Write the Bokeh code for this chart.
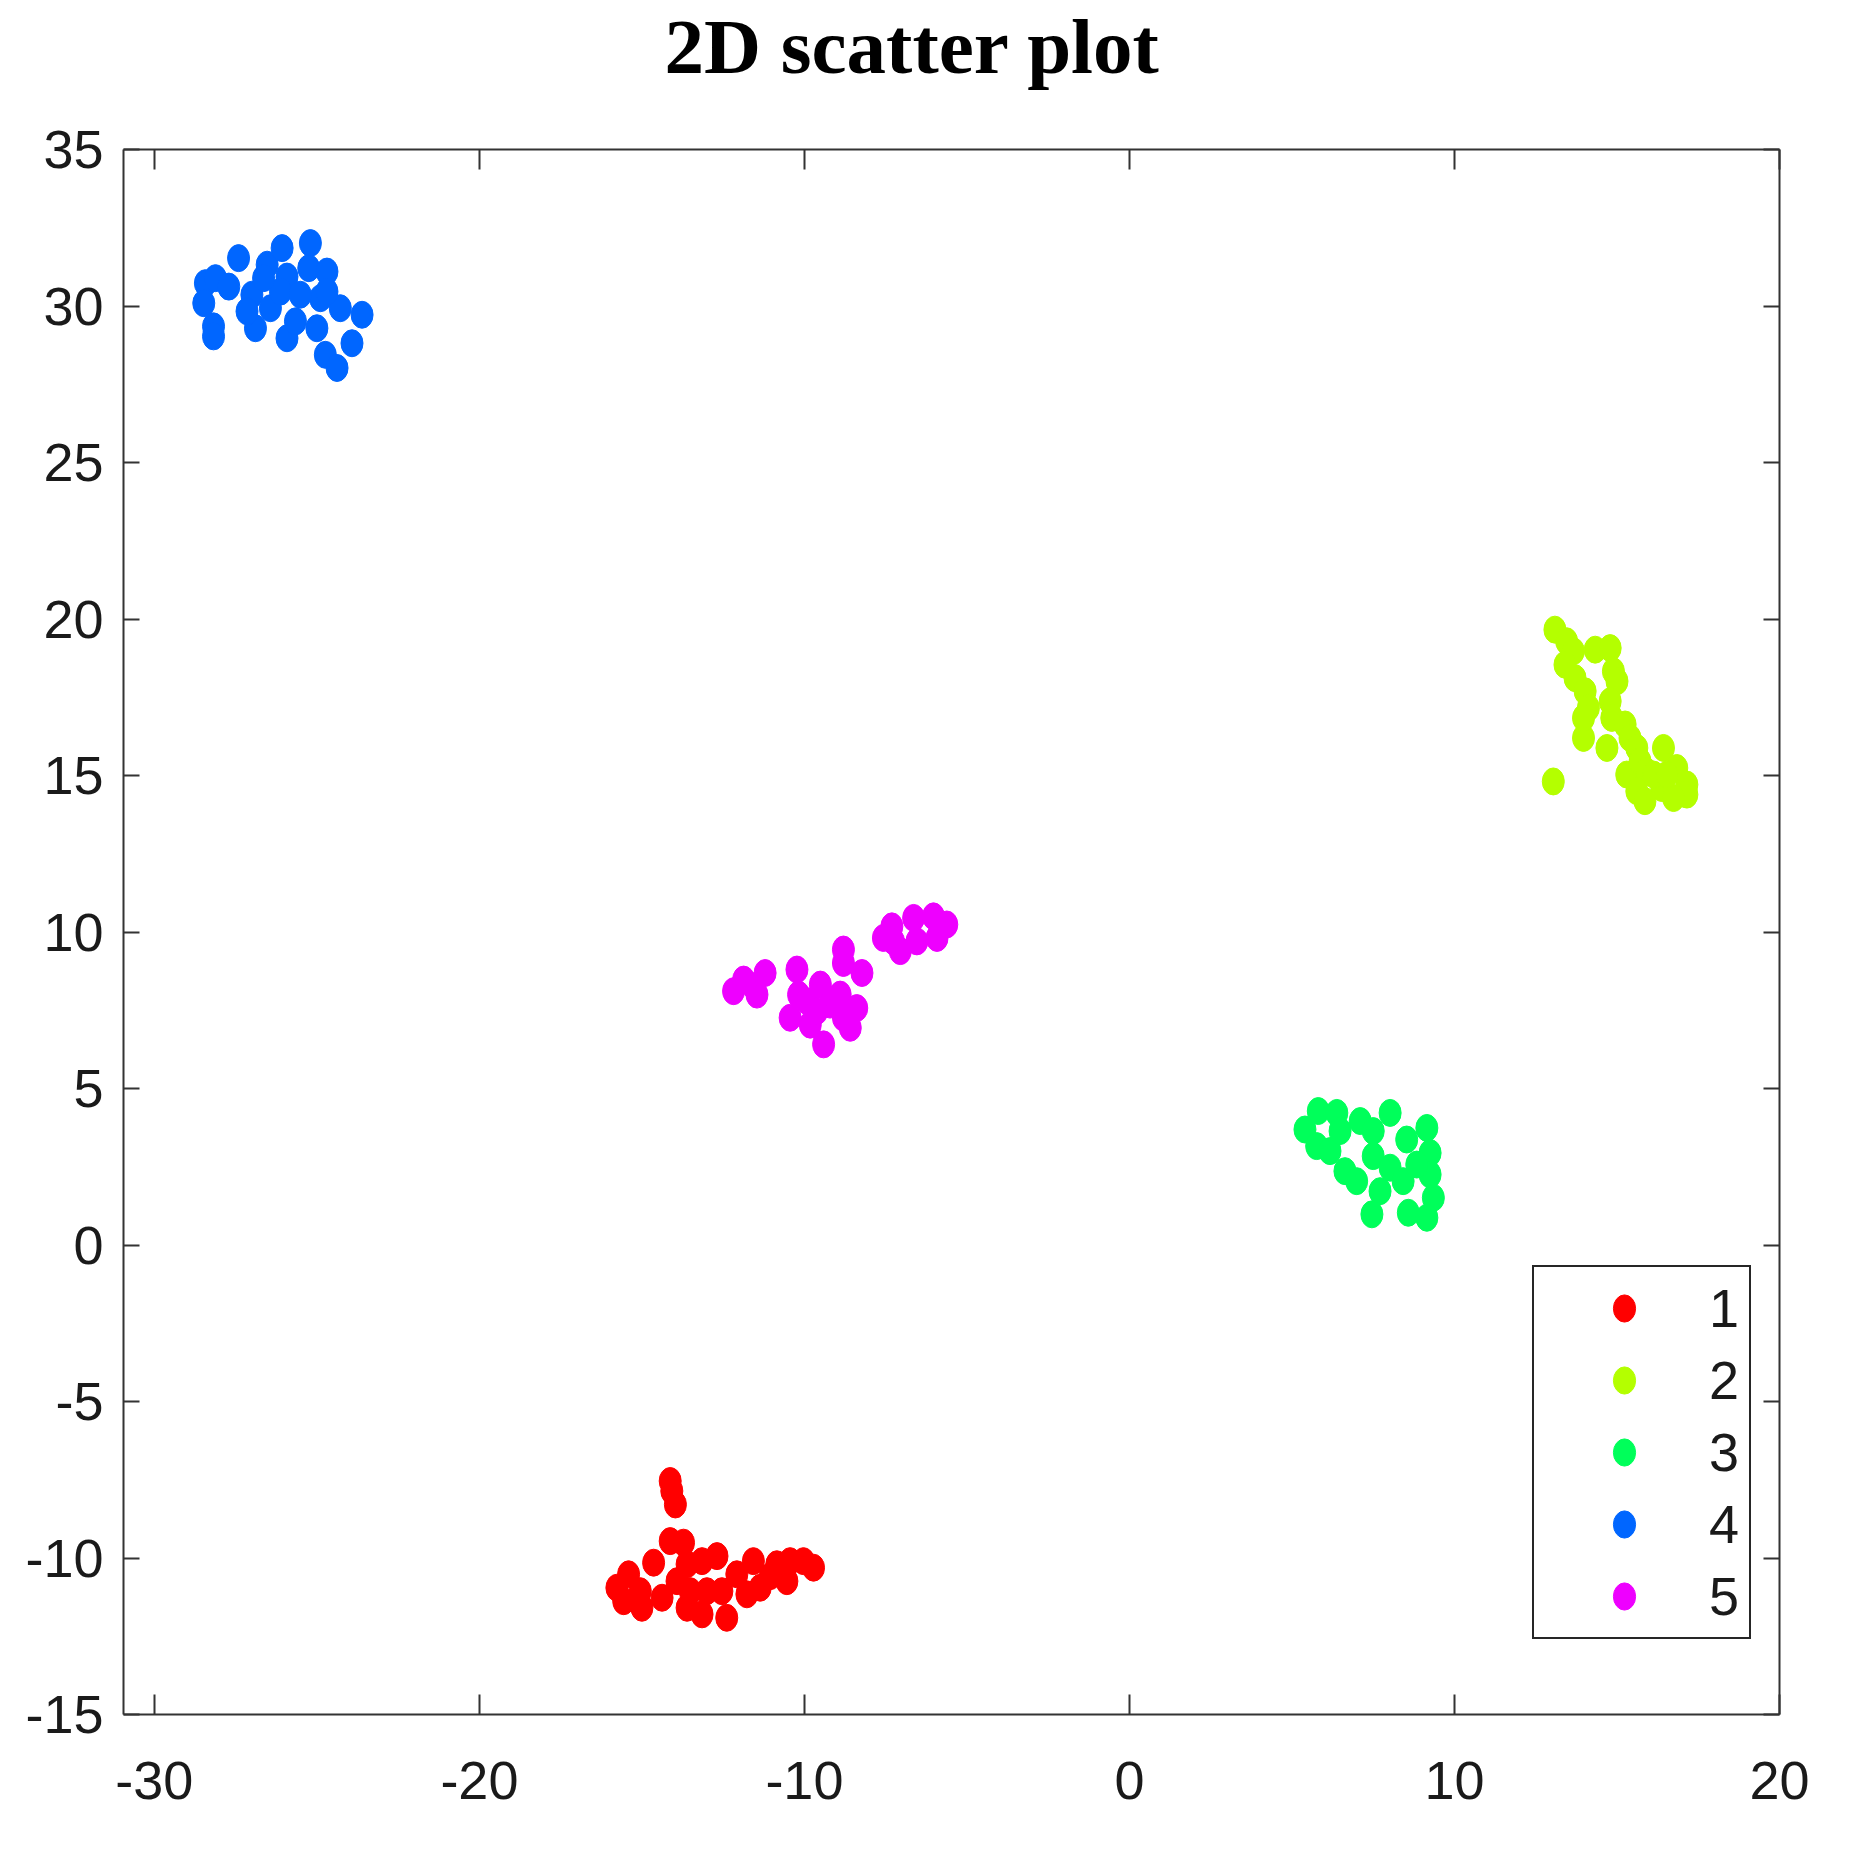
from bokeh.plotting import figure
from bokeh.models import (ColumnDataSource, LinearAxis, Legend, LegendItem, FixedTicker,
                          Range1d, CustomJSTickFormatter)
from bokeh.embed import file_html
from bokeh.resources import INLINE

# ---------------- data ----------------
title_text = "2D scatter plot"
x_ticks = [-30, -20, -10, 0, 10, 20]
y_ticks = [-15, -10, -5, 0, 5, 10, 15, 20, 25, 30, 35]
class_labels = ["1", "2", "3", "4", "5"]
class_colors = ["#FF0000", "#B4FF00", "#00FF5A", "#0066FF", "#EE00FF"]

c1_x = [-14.13, -14.08, -13.97, -14.13, -13.72, -14.64, -15.41, -15.77, -15.56, -15.05, -15.00,
        -14.38, -13.92, -13.61, -13.15, -12.69, -13.61, -13.15, -12.39, -13.00, -12.08, -11.57,
        -11.77, -11.36, -10.85, -10.54, -10.44, -10.03, -9.72, -12.54, -13.51, -11.05]
c1_y = [-7.54, -7.86, -8.29, -9.46, -9.51, -10.15, -10.52, -10.95, -11.38, -11.06, -11.59,
        -11.27, -10.74, -10.20, -10.10, -9.94, -11.59, -11.80, -11.91, -11.06, -10.52, -10.10,
        -11.16, -10.95, -10.20, -10.74, -10.10, -10.10, -10.31, -11.06, -11.06, -10.58]

c2_x = [13.09, 13.45, 13.66, 13.40, 13.71, 14.02, 14.12, 13.97, 14.33, 14.79, 14.89, 15.00,
        14.79, 14.84, 14.69, 15.25, 15.40, 15.61, 15.30, 15.71, 15.91, 15.61, 15.86, 16.43,
        16.38, 16.84, 17.15, 17.15, 16.74, 13.04, 16.13, 16.54, 13.97]
c2_y = [19.66, 19.29, 18.97, 18.54, 18.11, 17.69, 17.16, 16.20, 19.02, 19.07, 18.33, 18.01,
        17.37, 16.84, 15.88, 16.63, 16.20, 15.88, 15.03, 15.45, 15.13, 14.50, 14.18, 15.88,
        14.60, 15.24, 14.71, 14.39, 14.28, 14.81, 15.03, 15.03, 16.84]

c3_x = [5.40, 5.81, 6.38, 5.76, 6.17, 6.48, 7.10, 8.02, 6.63, 6.99, 7.50, 7.71, 7.46, 8.02,
        8.53, 9.15, 9.25, 9.25, 9.35, 8.58, 9.15, 8.42, 8.84, 7.50]
c3_y = [3.69, 4.28, 4.22, 3.16, 3.00, 3.64, 3.96, 4.22, 2.36, 2.04, 2.84, 1.72, 0.98, 2.47,
        3.37, 3.74, 2.94, 2.25, 1.51, 1.03, 0.87, 2.04, 2.57, 3.64]

c4_x = [-28.43, -28.12, -28.48, -28.18, -28.18, -27.71, -27.41, -27.00, -26.89, -26.53, -26.07,
        -25.92, -25.92, -25.66, -25.20, -25.25, -24.69, -24.89, -24.28, -23.61, -23.92, -25.00,
        -24.74, -24.38, -26.43, -26.12, -25.51, -26.64, -27.15, -24.69]
c4_y = [30.73, 30.89, 30.09, 29.35, 29.03, 30.62, 31.53, 30.36, 29.29, 31.32, 31.85, 30.94,
        28.97, 29.51, 32.01, 31.21, 31.10, 30.25, 29.93, 29.72, 28.81, 29.29, 28.44, 28.02,
        29.93, 30.46, 30.36, 30.89, 29.83, 30.46]

c5_x = [-12.18, -11.87, -11.57, -11.21, -11.46, -10.23, -10.18, -10.44, -9.92, -9.51, -9.82,
        -9.41, -9.21, -8.90, -8.80, -8.59, -8.39, -8.80, -8.80, -8.23, -7.57, -7.31, -7.05,
        -6.64, -6.54, -6.03, -5.92, -5.62, -9.62, -7.26]
c5_y = [8.11, 8.48, 8.27, 8.69, 8.00, 8.80, 8.00, 7.26, 7.79, 8.32, 7.04, 6.41, 7.68, 8.00,
        7.26, 6.94, 7.57, 9.44, 9.01, 8.69, 9.81, 10.18, 9.39, 10.45, 9.70, 10.50, 9.81, 10.24,
        7.47, 9.70]

series_x = [c1_x, c2_x, c3_x, c4_x, c5_x]
series_y = [c1_y, c2_y, c3_y, c4_y, c5_y]

# ---------------- figure ----------------
AX_COLOR = "#333333"
LABEL_FONT = "Liberation Sans"

p = figure(width=1841, height=1833, x_range=Range1d(-30.95, 20), y_range=Range1d(-15, 35),
           output_backend="svg", toolbar_location=None,
           min_border_left=123, min_border_right=62, min_border_top=149, min_border_bottom=119,
           background_fill_color="white", border_fill_color="white")
p.grid.visible = False
p.outline_line_color = None

p.title.text = title_text
p.title.text_font = "Liberation Serif"
p.title.text_font_style = "bold"
p.title.text_font_size = "79px"
p.title.text_color = "black"
p.title.align = "left"
p.title.offset = 541
p.title.standoff = 0


def style_axis(ax, ticks, tick_len, labels=True, standoff=20):
    ax.ticker = FixedTicker(ticks=ticks)
    ax.axis_line_color = AX_COLOR
    ax.axis_line_width = 2
    ax.major_tick_line_color = AX_COLOR
    ax.major_tick_line_width = 2
    ax.major_tick_in = tick_len
    ax.major_tick_out = 0
    ax.minor_tick_line_color = None
    if labels:
        ax.major_label_overrides = {t: str(t) for t in ticks}
        ax.major_label_text_font = LABEL_FONT
        ax.major_label_text_font_size = "54px"
        ax.major_label_text_color = "#1a1a1a"
        ax.major_label_standoff = standoff
    else:
        ax.formatter = CustomJSTickFormatter(code="return ''")
        ax.major_label_text_font_size = "1px"
        ax.major_label_standoff = standoff


style_axis(p.xaxis[0], x_ticks, 20, True, 47)
style_axis(p.yaxis[0], y_ticks, 16, True, 20)

# box edges with inward ticks
top_axis = LinearAxis()
style_axis(top_axis, x_ticks, 20, False, 0)
p.add_layout(top_axis, "above")
right_axis = LinearAxis()
style_axis(right_axis, y_ticks, 16, False, 0)
p.add_layout(right_axis, "right")

# invisible spacer panel between the box top and the title
spacer_axis = LinearAxis()
style_axis(spacer_axis, x_ticks, 0, False, 0)
spacer_axis.axis_line_color = None
spacer_axis.major_tick_line_color = None
spacer_axis.major_tick_out = 60
p.add_layout(spacer_axis, "above")

items = []
for lab, col, xs, ys in zip(class_labels, class_colors, series_x, series_y):
    src = ColumnDataSource(data=dict(x=xs, y=ys))
    r = p.ellipse(x="x", y="y", width=22, height=27, width_units="screen", height_units="screen",
                  fill_color=col, line_color=col, line_width=1, source=src)
    items.append(LegendItem(label=lab, renderers=[r]))

legend = Legend(items=items, location=(1409, 75), orientation="vertical",
                border_line_color="#262626", border_line_width=2, border_line_alpha=1.0,
                background_fill_color="white", background_fill_alpha=1.0,
                padding=10, spacing=10, margin=0,
                glyph_width=160, glyph_height=34, label_height=60, label_standoff=5,
                label_text_font=LABEL_FONT, label_text_font_size="54px",
                label_text_color="#1a1a1a")
p.add_layout(legend)

open("out.html", "w").write(file_html(p, INLINE))
